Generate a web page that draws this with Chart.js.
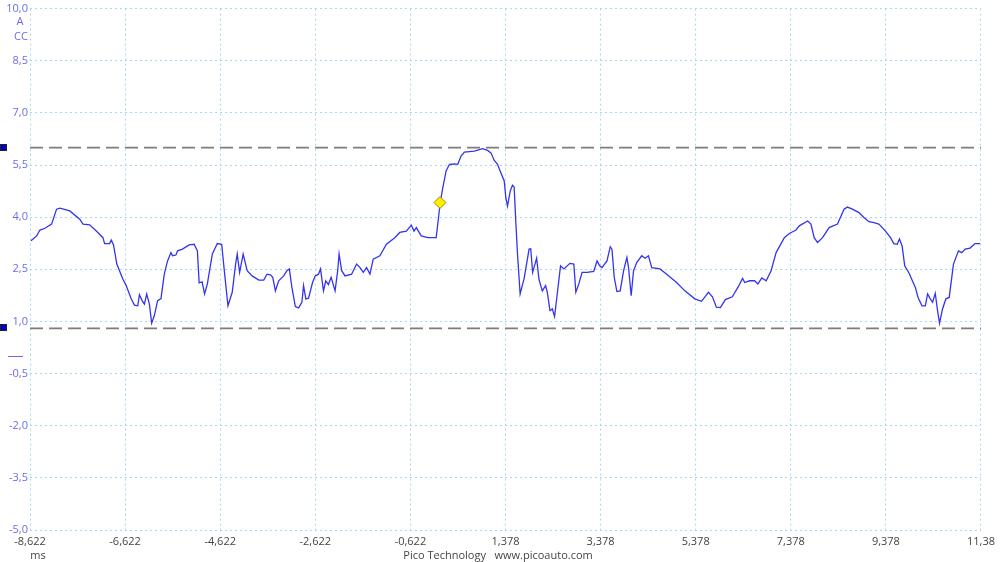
<!DOCTYPE html>
<html>
<head>
<meta charset="utf-8">
<script src="https://cdn.jsdelivr.net/npm/chart.js@4"></script>
<style>
  body { margin: 0; background: #fff; }
  #wrap { width: 1000px; height: 562px; }
</style>
</head>
<body>
<div id="wrap"><canvas id="myChart" width="1000" height="562"></canvas></div>
<script>
// channel A current, ms
var times = [
  -8.601,-8.482,-8.413,-8.308,-8.168,-8.063,-7.994,-7.785,-7.576,-7.507,
  -7.367,-7.227,-7.088,-7.053,-6.948,-6.913,-6.865,-6.796,-6.670,-6.599,
  -6.494,-6.425,-6.356,-6.321,-6.264,-6.216,-6.168,-6.111,-6.063,-6.007,
  -5.938,-5.867,-5.798,-5.729,-5.657,-5.624,-5.553,-5.519,-5.415,-5.275,
  -5.170,-5.101,-5.065,-5.003,-4.950,-4.892,-4.787,-4.683,-4.591,-4.542,
  -4.459,-4.369,-4.298,-4.264,-4.214,-4.139,-4.055,-3.950,-3.810,-3.706,
  -3.637,-3.565,-3.517,-3.461,-3.392,-3.287,-3.218,-3.168,-3.114,-3.042,
  -2.973,-2.904,-2.869,-2.821,-2.764,-2.680,-2.624,-2.555,-2.513,-2.450,
  -2.402,-2.346,-2.289,-2.206,-2.151,-2.122,-2.067,-1.996,-1.858,-1.754,
  -1.682,-1.613,-1.544,-1.473,-1.404,-1.264,-1.126,-0.950,-0.846,-0.708,
  -0.603,-0.546,-0.498,-0.394,-0.254,-0.080,-0.030,0.004,0.060,0.129,
  0.200,0.305,0.374,0.443,0.514,0.723,0.897,1.002,1.071,1.142,
  1.211,1.280,1.351,1.385,1.420,1.477,1.525,1.560,1.594,1.629,
  1.686,1.769,1.874,1.908,1.949,2.033,2.083,2.152,2.221,2.257,
  2.313,2.362,2.410,2.466,2.535,2.606,2.732,2.815,2.857,2.920,
  2.989,3.094,3.234,3.303,3.359,3.408,3.512,3.581,3.617,3.665,
  3.721,3.790,3.862,3.931,3.966,4.021,4.071,4.140,4.244,4.313,
  4.384,4.454,4.627,4.767,4.977,5.150,5.359,5.500,5.646,5.730,
  5.813,5.897,6.002,6.148,6.274,6.364,6.410,6.510,6.615,6.686,
  6.769,6.860,6.964,7.069,7.242,7.347,7.487,7.556,7.732,7.801,
  7.870,7.941,8.046,8.184,8.360,8.498,8.569,8.673,8.811,8.916,
  9.021,9.125,9.230,9.370,9.475,9.544,9.615,9.663,9.719,9.774,
  9.858,9.998,10.054,10.138,10.207,10.255,10.312,10.360,10.416,10.464,
  10.506,10.569,10.640,10.709,10.799,10.904,10.974,11.044,
  11.148,11.253,11.358
];
var amps = [
  3.32,3.46,3.63,3.68,3.80,4.23,4.26,4.18,3.94,3.80,
  3.78,3.60,3.41,3.24,3.24,3.34,3.20,2.65,2.22,2.03,
  1.65,1.47,1.45,1.77,1.60,1.50,1.79,1.50,0.95,1.17,
  1.60,1.66,2.36,2.74,2.98,2.89,2.91,3.03,3.08,3.20,
  3.22,3.03,2.11,2.14,1.79,2.08,2.94,3.24,3.22,2.55,
  1.45,1.84,2.65,2.94,2.41,2.94,2.46,2.31,2.19,2.19,
  2.36,2.34,2.27,1.88,2.17,2.31,2.46,2.51,1.98,1.43,
  1.39,1.55,2.03,1.65,1.67,2.12,2.31,2.36,2.51,1.88,
  2.17,2.06,2.27,1.88,2.46,2.94,2.46,2.31,2.36,2.65,
  2.55,2.41,2.55,2.36,2.79,2.89,3.22,3.41,3.56,3.60,
  3.77,3.60,3.70,3.46,3.41,3.41,3.99,4.42,4.85,5.33,
  5.52,5.53,5.52,5.76,5.87,5.90,5.97,5.92,5.85,5.63,
  5.52,5.28,5.04,4.56,4.32,4.75,4.92,4.87,3.89,2.97,
  1.79,2.23,3.08,3.09,2.41,2.82,2.20,1.88,2.03,1.84,
  1.31,1.36,1.14,1.79,2.60,2.51,2.67,2.65,1.84,2.08,
  2.41,2.41,2.44,2.74,2.60,2.55,2.74,3.15,3.08,2.27,
  1.86,1.88,2.46,2.84,2.55,1.74,2.46,2.70,2.89,2.82,
  2.89,2.55,2.51,2.36,2.12,1.88,1.65,1.58,1.84,1.71,
  1.41,1.40,1.63,1.71,2.00,2.24,2.12,2.17,2.17,2.08,
  2.25,2.17,2.46,2.98,3.41,3.53,3.63,3.75,3.89,3.80,
  3.41,3.27,3.41,3.70,3.80,4.23,4.29,4.23,4.13,3.99,
  3.87,3.84,3.80,3.60,3.41,3.24,3.22,3.37,3.17,2.60,
  2.41,1.98,1.69,1.45,1.45,1.79,1.65,1.55,1.81,1.31,
  0.95,1.36,1.65,1.69,2.65,3.03,2.98,3.08,
  3.11,3.24,3.24
];

var xTicks = [-8.622, -6.622, -4.622, -2.622, -0.622, 1.378, 3.378, 5.378, 7.378, 9.378, 11.378];
var xTickLabels = ['-8,622', '-6,622', '-4,622', '-2,622', '-0,622', '1,378', '3,378', '5,378', '7,378', '9,378', '11,38'];
var yTicks = [-5.0, -3.5, -2.0, -0.5, 1.0, 2.5, 4.0, 5.5, 7.0, 8.5, 10.0];
var yTickLabels = ['-5,0', '-3,5', '-2,0', '-0,5', '1,0', '2,5', '4,0', '5,5', '7,0', '8,5', '10,0'];

var rulers = [6.0, 0.8];     // dashed level rulers, A
var trigTime = [0.0];
var trigLevel = [4.42];

var xMin = xTicks[0], xMax = xTicks[xTicks.length - 1];
var blue = '#6b6bf0';
var gridBlue = '#a6d8ee';

var wave = times.map(function (t, i) { return { x: t, y: amps[i] }; });

var extras = {
  id: 'extras',
  afterDraw: function (chart) {
    var c = chart.ctx;
    var y = chart.scales.y;
    c.save();
    c.font = '11px "Open Sans"';
    c.textAlign = 'center';
    c.textBaseline = 'middle';
    c.fillStyle = blue;
    c.fillText('A', 20, 22);
    c.fillText('CC', 21, 37);

    c.fillStyle = '#444';
    c.fillText('ms', 38, 556);
    c.fillText('Pico Technology   www.picoauto.com', 498, 556);

    // ruler handles
    rulers.forEach(function (r) {
      var py = Math.round(y.getPixelForValue(r));
      c.fillStyle = '#0000cc';
      c.fillRect(0.5, py - 3.5, 6, 6);
      c.strokeStyle = '#222';
      c.lineWidth = 1;
      c.strokeRect(0.5, py - 3.5, 6, 6);
    });
    // channel zero marker
    var zy = Math.round(y.getPixelForValue(0)) + 0.5;
    c.strokeStyle = blue;
    c.lineWidth = 1;
    c.beginPath();
    c.moveTo(8, zy);
    c.lineTo(23, zy);
    c.stroke();
    c.restore();
  }
};

var ctx = document.getElementById('myChart');
var myChart = new Chart(ctx, {
  type: 'line',
  data: {
    datasets: [
      {
        label: 'trigger',
        data: trigTime.map(function (t, i) { return { x: t, y: trigLevel[i] }; }),
        showLine: false,
        pointStyle: 'rectRot',
        pointRadius: 6,
        backgroundColor: '#fff000',
        borderColor: '#9a8a00',
        borderWidth: 1,
        order: 0
      },
      {
        label: 'A',
        data: wave,
        borderColor: '#3434ee',
        borderWidth: 1.3,
        pointRadius: 0,
        tension: 0,
        order: 1
      },
      {
        label: 'ruler 1',
        data: [{ x: xMin, y: rulers[0] }, { x: xMax, y: rulers[0] }],
        borderColor: '#7d7d7d',
        borderWidth: 1.6,
        borderDash: [13, 6],
        pointRadius: 0,
        order: 2
      },
      {
        label: 'ruler 2',
        data: [{ x: xMin, y: rulers[1] }, { x: xMax, y: rulers[1] }],
        borderColor: '#7d7d7d',
        borderWidth: 1.6,
        borderDash: [13, 6],
        pointRadius: 0,
        order: 2
      }
    ]
  },
  options: {
    responsive: false,
    animation: false,
    events: [],
    layout: { padding: { top: 7, right: 14, left: 0, bottom: 0 } },
    plugins: { legend: { display: false }, tooltip: { enabled: false } },
    scales: {
      x: {
        type: 'linear',
        min: xMin,
        max: xMax,
        afterBuildTicks: function (s) { s.ticks = xTicks.map(function (v) { return { value: v }; }); },
        afterFit: function (s) { s.height = 32; },
        ticks: {
          autoSkip: false,
          maxRotation: 0,
          padding: 5,
          color: '#444',
          font: { family: 'Open Sans', size: 11 },
          callback: function (v, i) { return xTickLabels[i]; }
        },
        grid: { color: gridBlue, lineWidth: 1, drawTicks: false },
        border: { display: false, dash: [2, 3] }
      },
      y: {
        type: 'linear',
        min: yTicks[0],
        max: yTicks[yTicks.length - 1],
        afterBuildTicks: function (s) { s.ticks = yTicks.map(function (v) { return { value: v }; }); },
        afterFit: function (s) { s.width = 30; },
        ticks: {
          autoSkip: false,
          padding: 2,
          color: blue,
          font: { family: 'Open Sans', size: 11 },
          callback: function (v, i) { return yTickLabels[i]; }
        },
        grid: { color: gridBlue, lineWidth: 1, drawTicks: false },
        border: { display: false, dash: [2, 3] }
      }
    }
  },
  plugins: [extras]
});
</script>
</body>
</html>
